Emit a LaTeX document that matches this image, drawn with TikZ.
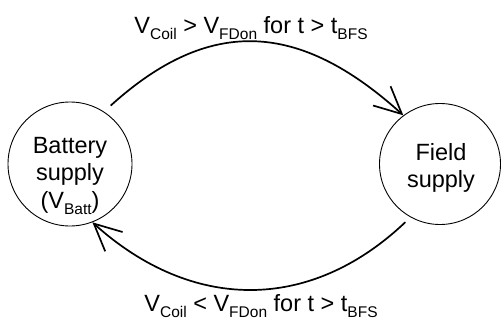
\documentclass[tikz,border=0pt]{standalone}
\usepackage{fontspec}
\setmainfont{Liberation Sans}
\usetikzlibrary{arrows.meta}
\newcommand\lowsub[1]{\raisebox{-6.5pt}{\fontsize{15.5}{16}\selectfont #1}}
\begin{document}
\begin{tikzpicture}[x=1pt,y=1pt,
  state/.style={draw,circle,line width=0.9pt,minimum size=#1,inner sep=0pt},
  txt/.style={inner sep=0pt,align=center,font=\fontsize{23.5}{27.5}\selectfont},
  trans/.style={line width=1.7pt,-{Straight Barb[length=27pt,width=26pt,line width=1.7pt]}},
  lbl/.style={inner sep=0pt,anchor=base,font=\fontsize{23.5}{27.5}\selectfont}]
\useasboundingbox (0,0) rectangle (501,-324);
\node[state=124pt] (batt) at (70,-164) {};
\node[state=121pt] (field) at (440,-164) {};
\node[txt] (batttext) at (70,-176) {Battery\\supply\\(V\lowsub{Batt})};
\node[txt] (fieldtext) at (441,-168) {Field\\supply};
\draw[trans,shorten <=9pt] (batt.57) .. controls +(105,95) and +(-105,95) .. (field.127);
\draw[trans,shorten <=7pt] (field.241) .. controls +(-100,-95) and +(100,-90) .. (batt.291);
\node[lbl] (top) at (251,-33) {V\lowsub{Coil} > V\lowsub{FDon} for t > t\lowsub{BFS}};
\node[lbl] (bot) at (261,-311) {V\lowsub{Coil} < V\lowsub{FDon} for t > t\lowsub{BFS}};
\end{tikzpicture}
\end{document}
